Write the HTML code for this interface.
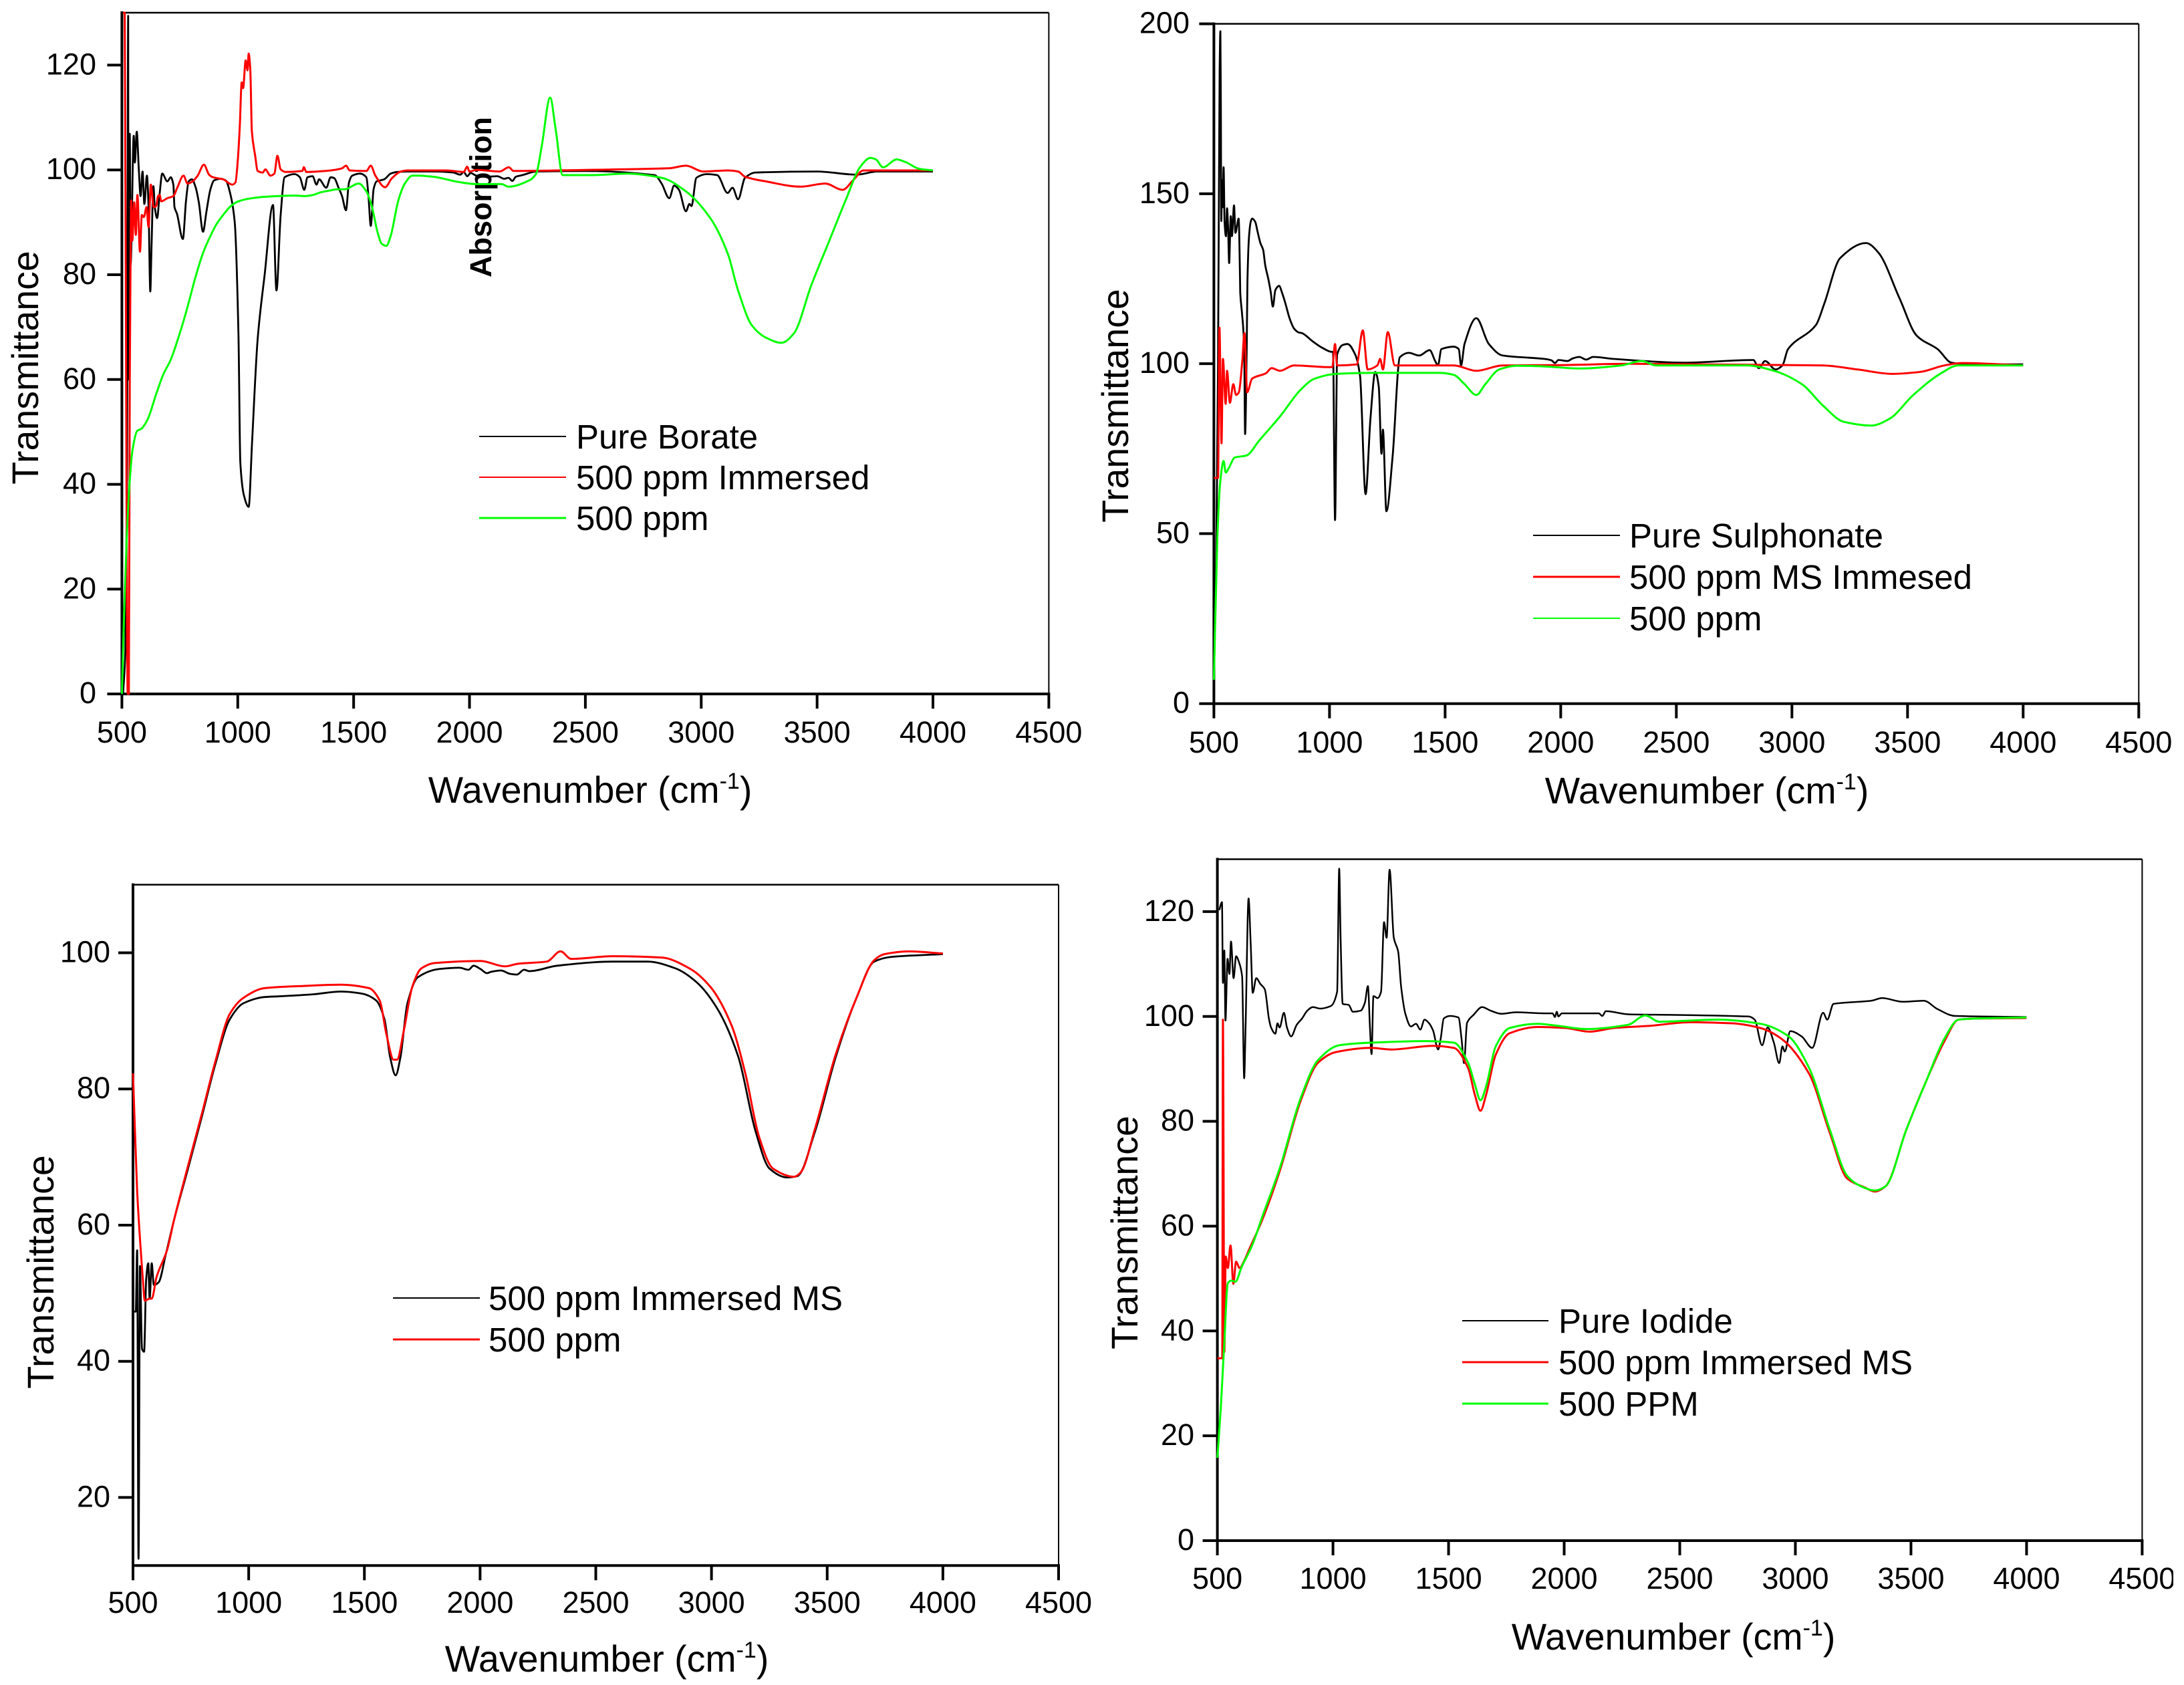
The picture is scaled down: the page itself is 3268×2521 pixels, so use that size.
<!DOCTYPE html>
<html lang="en">
<head>
<meta charset="utf-8">
<title>FTIR transmittance spectra</title>
<style>
html,body{margin:0;padding:0;background:#fff;}
svg{display:block;}
text{font-family:"Liberation Sans",Arial,sans-serif;fill:#000;}
.tick{font-size:45px;}
.leg{font-size:51px;}
.xt{font-size:55.5px;}
.yt{font-size:55.5px;}
</style>
</head>
<body>
<svg id="fig" xmlns="http://www.w3.org/2000/svg" width="3268" height="2521" viewBox="0 0 3268 2521">
<rect x="0" y="0" width="3268" height="2521" fill="#fff"/>

<g id="panel-1">
<text class="xt" x="883" y="1201" text-anchor="middle">Wavenumber (cm<tspan font-size="34" dy="-21">-1</tspan><tspan dy="21">)</tspan></text>
<text class="yt" transform="translate(57,550) rotate(-90)" text-anchor="middle">Transmittance</text>
<text transform="translate(735,295) rotate(-90)" text-anchor="middle" font-size="45" font-weight="bold">Absorption</text>
<line x1="717" x2="847" y1="653" y2="653" stroke="#000" stroke-width="2"/>
<line x1="717" x2="847" y1="714" y2="714" stroke="#f00" stroke-width="2"/>
<line x1="717" x2="847" y1="775" y2="775" stroke="#0f0" stroke-width="3"/>
<text class="leg" x="862" y="671">Pure Borate</text>
<text class="leg" x="862" y="732">500 ppm Immersed</text>
<text class="leg" x="862" y="793">500 ppm</text>
</g>

<g id="panel-2">
<text class="xt" x="2554" y="1202" text-anchor="middle">Wavenumber (cm<tspan font-size="34" dy="-21">-1</tspan><tspan dy="21">)</tspan></text>
<text class="yt" transform="translate(1688,607) rotate(-90)" text-anchor="middle">Transmittance</text>
<line x1="2294" x2="2424" y1="801" y2="801" stroke="#000" stroke-width="2"/>
<line x1="2294" x2="2424" y1="863" y2="863" stroke="#f00" stroke-width="3"/>
<line x1="2294" x2="2424" y1="925" y2="925" stroke="#0f0" stroke-width="2"/>
<text class="leg" x="2438" y="819">Pure Sulphonate</text>
<text class="leg" x="2438" y="881">500 ppm MS Immesed</text>
<text class="leg" x="2438" y="943">500 ppm</text>
</g>

<g id="panel-3">
<text class="xt" x="908" y="2501" text-anchor="middle">Wavenumber (cm<tspan font-size="34" dy="-21">-1</tspan><tspan dy="21">)</tspan></text>
<text class="yt" transform="translate(80,1903) rotate(-90)" text-anchor="middle">Transmittance</text>
<line x1="588" x2="718" y1="1942" y2="1942" stroke="#000" stroke-width="2"/>
<line x1="588" x2="718" y1="2004" y2="2004" stroke="#f00" stroke-width="3"/>
<text class="leg" x="731" y="1960">500 ppm Immersed MS</text>
<text class="leg" x="731" y="2022">500 ppm</text>
</g>

<g id="panel-4">
<text class="xt" x="2504" y="2468" text-anchor="middle">Wavenumber (cm<tspan font-size="34" dy="-21">-1</tspan><tspan dy="21">)</tspan></text>
<text class="yt" transform="translate(1702,1844) rotate(-90)" text-anchor="middle">Transmittance</text>
<line x1="2188" x2="2317" y1="1976" y2="1976" stroke="#000" stroke-width="2"/>
<line x1="2188" x2="2317" y1="2038" y2="2038" stroke="#f00" stroke-width="3"/>
<line x1="2188" x2="2317" y1="2100" y2="2100" stroke="#0f0" stroke-width="3"/>
<text class="leg" x="2332" y="1994">Pure Iodide</text>
<text class="leg" x="2332" y="2056">500 ppm Immersed MS</text>
<text class="leg" x="2332" y="2118">500 PPM</text>
</g>
</svg>
<script>
const xTickLabels = [500,1000,1500,2000,2500,3000,3500,4000,4500];
const p1YTicks = [0,20,40,60,80,100,120];
const p2YTicks = [0,50,100,150,200];
const p3YTicks = [20,40,60,80,100];
const p4YTicks = [0,20,40,60,80,100,120];

/* Panel 1: Pure Borate */
const p1BlackX = [505,515,522,527,528.5,531,534,537.5,551,556,564,573,580.6,589,597,608,615,622.5,628,636,642,652,663,674,696,711,722,727,738,763,777,788,802,818,832,850,865,882,898,926,948,970,987,1003,1011,1026,1047,1062,1086,1116,1152,1167,1185,1202,1246,1268,1287,1301,1323,1340,1351,1382,1401,1417,1434,1450,1467,1480,1494,1528,1555,1564,1574,1586,1599,1632,1660,1687,1750,1850,1930,1960,1975,1990,2005,2030,2077,2120,2150,2168,2185,2200,2228,2288,2500,2799,2829,2862,2883,2904,2934,2949,2958,2979,3024,3069,3114,3135,3159,3189,3234,3500,3670,3760,4000];
const p1BlackY = [0,8,40,129.4,60,106,106.9,81.9,106.5,101.4,107.3,100.1,95,99.7,93.5,98.9,92.9,76.8,85.7,96.9,92.9,90.8,95.5,99.3,97.8,98.6,97.2,92.9,91.6,86.8,94.2,97.8,98.2,96.7,93.8,88.2,92.1,96.3,98,98.3,98,95,89.9,68.7,44.2,38,35.7,48.3,67.8,80,93.3,77,91.3,98.6,99.2,98.6,96.2,98.6,98.8,97.2,98.2,96.6,98.6,98.4,96.7,95,92.3,97.6,98.9,99.3,98.6,95,89.3,96.3,97.8,98.2,99.3,99.6,99.7,99.7,99.5,99.1,99.6,98.8,99.4,98.9,98.7,98.8,98.3,98.5,97.9,98.7,99,99.7,99.8,99,97.4,94.6,97,96.2,92.1,93.5,93.1,98.5,99.2,99,95.6,96.6,94.4,98.5,99.5,99.7,99.1,99.7,99.7];
const p1RedX = [505,512,515,525,530,534,537,540,545,553,560,567,578,586,595,606,615,625,637,648,656,663,670,696,722,738,766,783,805,827,854,876,893,937,976,990,1000,1009,1017,1023,1034,1042,1047,1054,1061,1075,1086,1108,1119,1141,1158,1171,1185,1207,1279,1285,1296,1401,1450,1467,1483,1555,1574,1594,1636,1665,1704,1732,1900,1975,1990,2000,2030,2130,2170,2190,2500,2859,2934,3009,3114,3159,3189,3279,3430,3535,3610,3655,3700,4000];
const p1RedY = [130,130,100,0,0,60,80,94.2,86.5,93.8,87.6,95.2,84.4,91.4,91,92.9,89.1,97.2,92.9,93.1,95,95.2,94,94.6,95,96.5,98.9,97.4,97.8,98.9,101,99.1,98.6,98.2,97.2,97.6,101.8,108.6,116.7,115.6,120.9,119,122.2,119.2,107.3,102.7,99.8,99.5,100.1,98.9,99.3,102.7,100.1,99.6,99.8,100.5,99.6,99.9,100.3,100.8,99.9,99.8,100.8,98.9,96.7,98.4,99.7,99.9,99.9,99.6,100.6,99.7,100,99.7,100.5,99.8,100,100.3,100.8,99.7,99.9,99.7,98.7,97.8,96.8,97.4,96.2,98,99.9,99.9];
const p1GreenX = [500,509,521,533,545,566,584,611,650,680,710,749,783,816,849,882,909,937,970,1003,1047,1125,1246,1290,1323,1356,1401,1428,1461,1522,1555,1577,1605,1621,1641,1660,1693,1721,1754,1776,1842,1952,2030,2138,2168,2258,2288,2312,2348,2372,2402,2530,2680,2829,2934,3039,3114,3159,3219,3279,3346,3400,3475,3550,3625,3685,3730,3754,3784,3844,3881,3941,4000];
const p1GreenY = [0,14.5,30,40,46.3,50.2,50.6,52.4,57.5,61.1,63.7,68.7,73.8,79.3,84,87.4,89.7,91.4,93.1,94,94.5,94.9,95.1,95,95.2,95.7,96.1,96.3,96.3,97.4,95.9,93.3,87.8,85.9,85.5,87.4,94.2,97.4,98.9,98.9,98.7,97.7,97.3,97.3,96.8,98,99.3,104.6,113.8,107.7,99,99,99.3,98.5,95.9,90.8,84.1,77,70.3,68,67,68.8,78,86.2,94.4,100.5,102.3,102,100.5,102,101.5,100.2,99.9];

/* Panel 2: Pure Sulphonate */
const p2BlackX = [500,510,518,525,528,530,532,534.5,537,542,546,552,557,561,566,573,578,587,593,607,612,614,621,626,631,635,642,645,652,660,666,679,689,701,713,722,737,746,755,766,782,795,809,828,847,867,881,925,963,1012,1015,1024,1033,1057,1078,1111,1132,1156,1177,1198,1213,1225,1231,1246,1273,1304,1343,1388,1433,1457,1469,1484,1538,1559,1569,1584,1635,1689,1749,1930,1960,1975,1990,2030,2050,2080,2110,2140,2230,2532,2833,2857,2884,2929,2959,2983,3104,3140,3209,3320,3374,3465,3540,3630,3690,3766,4000];
const p2BlackY = [8,40,100,186.6,197.8,176.8,142,153.9,146,157.8,142,137.5,145.7,140.7,129.6,143.4,137.5,146.6,138.5,142.7,129.6,121,115.2,111.3,104.7,79.3,104.7,124.4,137.5,142,142.7,141.7,138.8,135.5,133.5,129,124.4,121,116.8,121.7,122.9,120.8,117.8,113.2,110.3,109.2,109,106.7,104.9,103.5,103.5,54,102.7,105.5,105.8,102.7,96.4,61.6,83.7,97.6,93.2,73.5,80.6,56.6,72.7,101.9,103.2,102.4,104,100.8,99.5,104.3,105,104.3,99.5,105.8,113.4,105.8,102.4,101.4,101,100.2,101.1,100.8,101.5,102,101.2,102,101.4,100.3,101.1,98.7,100.8,98.3,99.5,104.3,111.4,117.7,131.1,135.5,132.7,119.3,108.2,104.3,100.3,99.8,99.8];
const p2RedX = [500,518,524,533,539,551,557,569,584,596,608,623,632,644,665,725,750,786,846,997,1012,1024,1033,1117,1144,1165,1207,1219,1231,1252,1283,1538,1635,1749,2000,2300,3134,3284,3435,3555,3660,3736,4000];
const p2RedY = [66.4,66.4,110.6,76.6,101.4,88.2,97.9,88.5,94,90.8,91.6,101,109,91.6,95.6,97.2,98.7,97.9,99.5,99,99,105.8,99.5,99.8,109.8,98.3,99.5,101.4,98.3,109.3,99.5,99.5,97.9,99.5,99.6,100,99.5,98.3,97,97.6,99.5,100.2,99.5];
const p2GreenX = [500,515,527,542,551,566,590,641,696,786,876,936,1027,1177,1478,1538,1584,1635,1674,1734,1809,1930,2080,2261,2351,2411,2803,2923,3043,3134,3224,3344,3420,3525,3645,3720,4000];
const p2GreenY = [7,49,64.8,71.4,68,69.5,72.4,73,77.4,84.5,92.4,95.6,97,97.3,97.3,96.7,94,90.8,94,98.3,99.4,99.2,98.6,99.5,100.8,99.5,99.5,97.9,94,87.7,82.9,81.8,83.7,90.8,97.2,99.5,99.5];

/* Panel 3: 500 ppm Immersed MS */
const p3BlackX = [503,512,518,524,530,539,548,557,566,572,581,590,611,641,677,737,798,858,918,978,1069,1129,1279,1400,1490,1551,1587,1611,1635,1656,1686,1731,1821,1911,1950,1972,2002,2030,2047,2090,2130,2159,2190,2213,2333,2574,2724,2845,2935,3025,3116,3191,3251,3326,3371,3447,3537,3627,3703,3778,4000];
const p3BlackY = [47.3,47.3,56.3,11,54,41.8,41.4,52,54.4,49.2,54.4,51.2,51.6,55.6,60.7,68.2,76,83.9,90.2,92.6,93.5,93.6,93.9,94.3,94,93,90.2,84.7,82,84.7,92.6,96.4,97.6,97.8,97.5,98.1,97.6,97,97.2,97.4,96.9,96.8,97.5,97.3,98.1,98.7,98.7,97.7,95.7,91.8,84.7,73.7,68.3,67,67.2,73.7,84.7,93.4,98.7,99.4,99.8];
const p3RedX = [500,518,542,551,572,581,602,647,677,737,798,858,918,978,1069,1219,1400,1520,1566,1596,1626,1641,1671,1707,1746,1806,2002,2107,2167,2288,2348,2393,2574,2785,2905,2995,3086,3146,3206,3266,3357,3387,3447,3537,3627,3703,3748,3853,4000];
const p3RedY = [82.3,65,52.4,48.9,49.2,49.2,52.4,56.3,60.7,68.6,76.4,84.3,91,93.4,94.8,95.1,95.3,94.8,93,87.9,84.3,84.3,88.7,95,97.7,98.5,98.8,98,98.4,98.7,100.2,99.1,99.5,99.3,97.7,95,89.4,82.3,72.9,68.3,67.1,67.8,74.1,85.1,93.4,98.9,99.8,100.2,99.9];

/* Panel 4: Pure Iodide */
const p4BlackX = [508,520,524,530,535,544,552,559,570,581,594,607,616,622,635,644,653,668,686,705,723,732,751,760,769,788,801,819,843,866,889,913,944,991,1018,1027,1033,1042,1068,1086,1120,1138,1151,1160,1167,1175,1193,1208,1221,1232,1245,1263,1282,1295,1313,1337,1359,1378,1396,1414,1433,1455,1466,1479,1506,1543,1556,1567,1580,1608,1645,1682,1728,1792,1912,1950,1960,1968,1975,1990,2096,2150,2165,2180,2281,2465,2797,2824,2856,2880,2907,2930,2944,2954,2978,3027,3073,3120,3138,3165,3328,3375,3465,3555,3615,3690,4000];
const p4BlackY = [120.3,121.8,106.4,112.6,99.2,111,108.1,114.3,107.3,111.5,110.3,107.7,88.2,98,122.5,114,104.5,107.3,106.2,105.2,99.6,97.9,96.7,98.7,97.9,100.7,97.9,96.2,98.4,99.6,101.1,101.8,101.5,102,104.7,128.2,115,102.4,102.2,100.9,101.1,102.6,105.8,97.9,92.8,103.9,103.5,104.7,118,115,128,115,112.4,105.6,100.5,98.1,98.6,97.5,99.4,98.8,97.3,93.7,95.8,99.6,100.1,99.8,95.8,91.1,98.8,100.3,101.8,101.1,100.5,100.8,100.6,100.6,99.9,100.9,100,100.6,100.6,100.6,100.1,101,100.4,100.3,100,99.4,94.5,97.9,95,91.1,94.3,93.3,97.2,96.2,94,100.7,99.4,102.4,103,103.5,102.8,103,101.4,100.1,99.9];
const p4RedX = [500,521,524,530,536,545,557,569,581,596,614,635,696,771,861,936,1012,1162,1253,1433,1523,1584,1614,1638,1662,1704,1764,1885,2005,2110,2216,2366,2547,2727,2848,2938,3059,3149,3224,3299,3344,3390,3480,3570,3645,3706,3781,4000];
const p4RedY = [34.8,34.8,99.4,36,54.2,52,56.3,49,53.2,52,53.2,55.3,61.4,70.7,84,91.2,93.2,94,93.7,94.4,94,90.2,85,82,85,92.7,96.8,98,97.8,97.1,97.8,98.2,98.9,98.7,97.8,95.8,89.1,77.8,69.1,67.4,66.6,67.6,78.4,88.1,95.3,99.4,99.6,99.7];
const p4GreenX = [500,515,530,545,560,578,605,650,696,771,861,936,1027,1162,1403,1523,1584,1614,1638,1662,1704,1764,1885,1975,2095,2276,2351,2411,2667,2848,2968,3059,3149,3224,3284,3344,3390,3480,3570,3645,3706,3781,4000];
const p4GreenY = [15.8,25.5,37.8,49.1,49.6,49.4,52.2,56.3,62,71.2,84.5,91.7,94.5,95,95.3,95,91.2,87,84,86.6,94.3,97.8,98.6,98.2,97.6,98.4,100.2,99,99.4,98.6,96.3,90.2,78.4,69.6,67.6,66.8,67.6,78.4,88.1,95.8,99.4,99.6,99.8];

const SVG_NS = 'http://www.w3.org/2000/svg';
const xDomain = [500,4500];

function makeScale(d0,d1,r0,r1){
  return function(v){ return r0 + (v-d0)*(r1-r0)/(d1-d0); };
}
function drawLine(parent,x1,y1,x2,y2,width,name){
  const el = document.createElementNS(SVG_NS,'line');
  el.setAttribute('x1',x1);
  el.setAttribute('y1',y1);
  el.setAttribute('x2',x2);
  el.setAttribute('y2',y2);
  el.setAttribute('stroke','#000');
  el.setAttribute('stroke-width',width);
  
  
  parent.appendChild(el);
}
function drawLabel(parent,x,y,anchor,value,name){
  const el = document.createElementNS(SVG_NS,'text');
  el.setAttribute('class','tick');
  el.setAttribute('x',x);
  el.setAttribute('y',y);
  el.setAttribute('text-anchor',anchor);
  
  
  el.textContent = String(value);
  parent.appendChild(el);
}
/* Monotone cubic path through the scaled points, so smooth bands stay smooth and peaks do not overshoot. */
function monotonePath(px,py){
  const n = px.length;
  const slope = [];
  for(let i=0;i<n-1;i++){
    const dx = px[i+1]-px[i];
    slope.push(dx>0 ? (py[i+1]-py[i])/dx : 0);
  }
  const tan = [slope[0]];
  for(let i=1;i<n-1;i++){
    const a = slope[i-1], b = slope[i];
    tan.push(a*b<=0 ? 0 : 2*a*b/(a+b));
  }
  tan.push(slope[n-2]);
  let d = 'M'+px[0].toFixed(1)+' '+py[0].toFixed(1);
  for(let i=0;i<n-1;i++){
    const h = (px[i+1]-px[i])/3;
    d += 'C'+(px[i]+h).toFixed(1)+' '+(py[i]+tan[i]*h).toFixed(1)+' '+(px[i+1]-h).toFixed(1)+' '+(py[i+1]-tan[i+1]*h).toFixed(1)+' '+px[i+1].toFixed(1)+' '+py[i+1].toFixed(1);
  }
  return d;
}
function drawSeries(parent,xs,ys,sx,sy,color,width,name){
  const el = document.createElementNS(SVG_NS,'path');
  el.setAttribute('d',monotonePath(xs.map(sx),ys.map(sy)));
  el.setAttribute('fill','none');
  el.setAttribute('stroke',color);
  el.setAttribute('stroke-width',width);
  el.setAttribute('stroke-linejoin','round');
  
  
  parent.appendChild(el);
}
function drawAxes(id,prefix,box,yMin,yMax,yTicks,yLabelX,xLabelY){
  const g = document.getElementById(id);
  const sx = makeScale(xDomain[0],xDomain[1],box.left,box.right);
  const sy = makeScale(yMin,yMax,box.bottom,box.top);
  drawLine(g,box.left,box.top,box.right,box.top,2.5,prefix+'-top-border');
  drawLine(g,box.right,box.top,box.right,box.bottom,2,prefix+'-right-border');
  drawLine(g,box.left,box.top-2,box.left,box.bottom+2,4,prefix+'-y-axis');
  drawLine(g,box.left-2,box.bottom,box.right+2,box.bottom,4,prefix+'-x-axis');
  xTickLabels.forEach(function(v){
    drawLine(g,sx(v),box.bottom,sx(v),box.bottom+22,4,prefix+'-x-tick-'+v);
    drawLabel(g,sx(v),xLabelY,'middle',v,prefix+'-x-tick-label-'+v);
  });
  yTicks.forEach(function(v){
    drawLine(g,box.left,sy(v),box.left-22,sy(v),4,prefix+'-y-tick-'+v);
    drawLabel(g,yLabelX,sy(v)+14,'end',v,prefix+'-y-tick-label-'+v);
  });
  return {g:g,sx:sx,sy:sy};
}

const a1 = drawAxes('panel-1','borate',{left:182.4,right:1569.4,top:19,bottom:1038.2},0,130,p1YTicks,144,1111);
drawSeries(a1.g,p1BlackX,p1BlackY,a1.sx,a1.sy,'#000',2.8,'series-pure-borate');
drawSeries(a1.g,p1RedX,p1RedY,a1.sx,a1.sy,'#f00',3,'series-500-ppm-immersed');
drawSeries(a1.g,p1GreenX,p1GreenY,a1.sx,a1.sy,'#0f0',3,'series-500-ppm');

const a2 = drawAxes('panel-2','sulphonate',{left:1816.4,right:3200.3,top:35.6,bottom:1052.7},0,200,p2YTicks,1780,1126);
drawSeries(a2.g,p2BlackX,p2BlackY,a2.sx,a2.sy,'#000',2.8,'series-pure-sulphonate');
drawSeries(a2.g,p2RedX,p2RedY,a2.sx,a2.sy,'#f00',3,'series-500-ppm-ms-immersed');
drawSeries(a2.g,p2GreenX,p2GreenY,a2.sx,a2.sy,'#0f0',3,'series-500-ppm');

const a3 = drawAxes('panel-3','immersed-ms',{left:199,right:1584,top:1323.6,bottom:2342.3},10,110,p3YTicks,165,2413);
drawSeries(a3.g,p3BlackX,p3BlackY,a3.sx,a3.sy,'#000',2.8,'series-500-ppm-immersed-ms');
drawSeries(a3.g,p3RedX,p3RedY,a3.sx,a3.sy,'#f00',3,'series-500-ppm');

const a4 = drawAxes('panel-4','iodide',{left:1821.6,right:3205.4,top:1285.5,bottom:2305},0,130,p4YTicks,1787,2377);
drawSeries(a4.g,p4BlackX,p4BlackY,a4.sx,a4.sy,'#000',2.5,'series-pure-iodide');
drawSeries(a4.g,p4RedX,p4RedY,a4.sx,a4.sy,'#f00',3,'series-500-ppm-immersed-ms');
drawSeries(a4.g,p4GreenX,p4GreenY,a4.sx,a4.sy,'#0f0',3,'series-500-ppm');

const edgeMask = document.createElementNS(SVG_NS,'rect');
edgeMask.setAttribute('x','3252');
edgeMask.setAttribute('y','2330');
edgeMask.setAttribute('width','16');
edgeMask.setAttribute('height','60');
edgeMask.setAttribute('fill','#fff');


document.getElementById('fig').appendChild(edgeMask);
</script>
</body>
</html>
